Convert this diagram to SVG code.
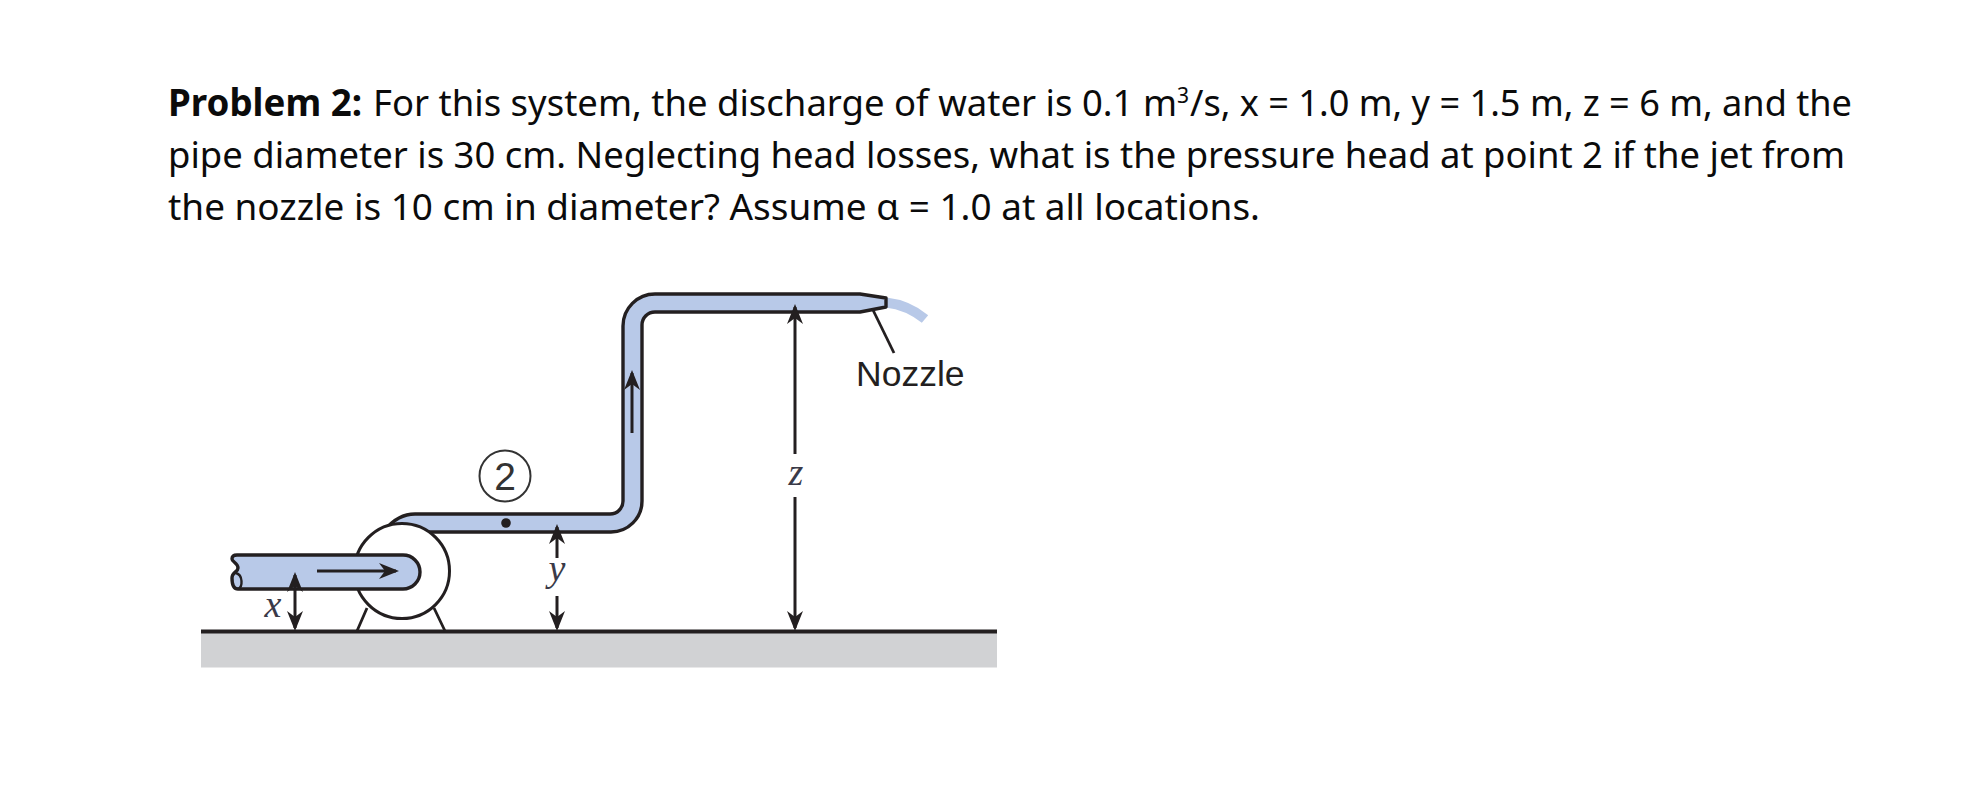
<svg xmlns="http://www.w3.org/2000/svg" width="1966" height="799" viewBox="0 0 1966 799">
<style>
.t{font-family:"Noto Sans","Liberation Sans",sans-serif;font-size:37px;fill:#0b0b0b}
.b{font-weight:700}
.s{fill:#b8c9e8;stroke:#231f20;stroke-width:3.400;stroke-linejoin:round}
.l{fill:none;stroke:#231f20;stroke-width:2.800}
.d{fill:none;stroke:#231f20;stroke-width:3;marker-end:url(#ah)}
.v{font-family:"Liberation Serif",serif;font-style:italic;font-size:38px;fill:#3a3a48;text-anchor:middle}
.n{font-family:"Liberation Sans",Arial,sans-serif;font-size:35.500px;fill:#231f20}
</style>
<defs>
<marker id="ah" markerUnits="userSpaceOnUse" markerWidth="22" markerHeight="18" refX="17" refY="8" orient="auto"><path d="M20 8L0 0L6 8L0 16Z" fill="#231f20"/></marker>
</defs>
<rect width="1966" height="799" fill="#fff"/>
<g id="problem-text">
<text class="t" y="116"><tspan class="b" x="168" textLength="194" lengthAdjust="spacingAndGlyphs">Problem 2:</tspan><tspan x="373" textLength="804" lengthAdjust="spacingAndGlyphs">For this system, the discharge of water is 0.1 m</tspan><tspan x="1177" dy="-13" style="font-size:21px">3</tspan><tspan x="1190" dy="13" textLength="662" lengthAdjust="spacingAndGlyphs">/s, x = 1.0 m, y = 1.5 m, z = 6 m, and the</tspan></text>
<text class="t" x="168" y="168" textLength="1677" lengthAdjust="spacingAndGlyphs">pipe diameter is 30 cm. Neglecting head losses, what is the pressure head at point 2 if the jet from</text>
<text class="t" x="168" y="220" textLength="1092" lengthAdjust="spacingAndGlyphs">the nozzle is 10 cm in diameter? Assume α = 1.0 at all locations.</text>
</g>
<g id="ground">
<rect x="201" y="631" width="796" height="36.500" fill="#d1d2d4"/>
<path d="M201 631.500H997" fill="none" stroke="#231f20" stroke-width="3.800"/>
</g>
<g id="jet"><path d="M886 302.500Q908 305 925 319" fill="none" stroke="#b8c9e8" stroke-width="10"/></g>
<g id="outlet-pipe"><path class="s" d="M385 530Q398 514 415 514H610A13 13 0 0 0 623 501V326A32 32 0 0 1 655 294H860L886 298V307L860 312H655A13 13 0 0 0 642 325V501A31 31 0 0 1 611 532H425Z"/></g>
<g id="pump">
<path class="l" d="M367 608L357 631M434 608L445 631"/>
<circle cx="402" cy="571" r="47.500" fill="#fff" stroke="#231f20" stroke-width="3"/>
</g>
<g id="inlet-pipe"><path class="s" d="M237 555H403A17 17 0 0 1 403 589H238C233 589 232 584 232 578C232 572 238 572 238 568C238 563 232 562 232 559C232 556 234 555 237 555Z"/>
<path d="M236 573C243 575 243 587 238 589" fill="none" stroke="#231f20" stroke-width="2.400"/></g>
<g id="point-2">
<circle cx="505" cy="476" r="25.500" fill="#fff" stroke="#333" stroke-width="2"/>
<text x="505" y="490" text-anchor="middle" style="font-family:'Liberation Sans',sans-serif;font-size:39px;fill:#333">2</text>
<circle cx="506" cy="523" r="4.800" fill="#231f20"/>
</g>
<g id="connectors">
<path class="d" d="M317 571H396"/>
<path class="d" d="M632 433V373"/>
<path class="d" d="M295 600V575"/>
<path class="d" d="M295 600V628"/>
<path class="d" d="M557 558V527"/>
<path class="d" d="M557 596V628"/>
<path class="d" d="M795 454V307"/>
<path class="d" d="M795 497V628"/>
<path class="l" d="M873 310L894 353"/>
</g>
<g id="labels">
<text class="v" x="273" y="617">x</text>
<text class="v" x="557" y="581">y</text>
<text class="v" x="796" y="485">z</text>
<text class="n" x="856" y="386">Nozzle</text>
</g>
</svg>
